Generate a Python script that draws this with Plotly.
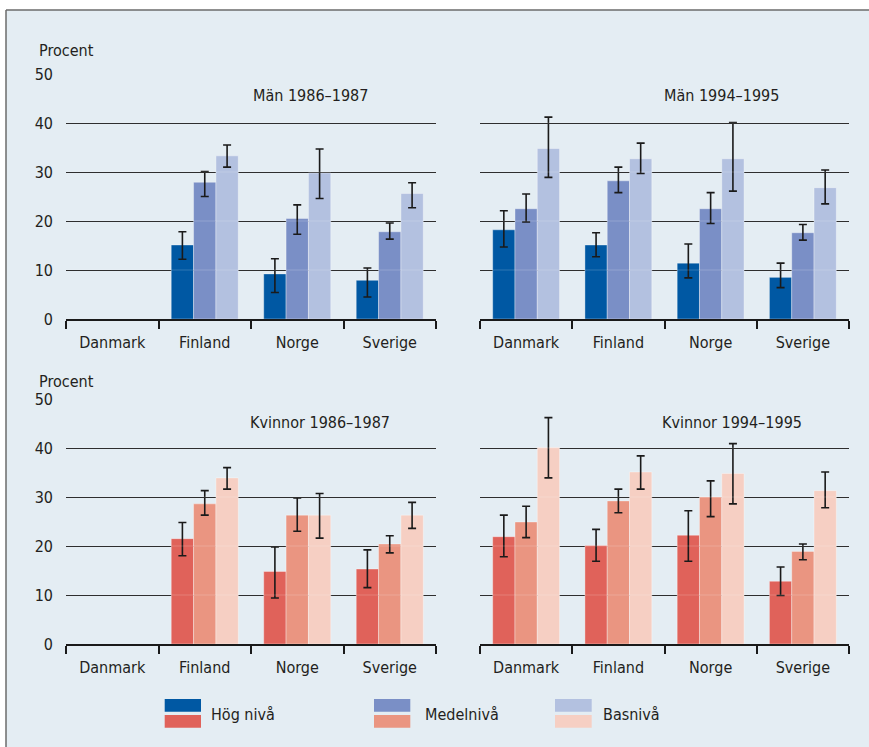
import plotly.graph_objects as go
from plotly.subplots import make_subplots

countries = ["Danmark", "Finland", "Norge", "Sverige"]
levels = ["Hög nivå", "Medelnivå", "Basnivå"]
panel_titles = ["Män 1986–1987", "Män 1994–1995", "Kvinnor 1986–1987", "Kvinnor 1994–1995"]

# values, upper and lower CI bounds per panel / level
man_8687 = [[None, 15.1, 9.2, 7.9], [None, 27.9, 20.5, 17.8], [None, 33.3, 29.8, 25.6]]
man_8687_hi = [[None, 17.8, 12.3, 10.4], [None, 30.1, 23.3, 19.6], [None, 35.5, 34.7, 27.8]]
man_8687_lo = [[None, 12.2, 5.4, 4.5], [None, 25.0, 17.3, 16.3], [None, 31.0, 24.6, 22.7]]

man_9495 = [[18.2, 15.1, 11.4, 8.5], [22.5, 28.2, 22.5, 17.6], [34.8, 32.7, 32.7, 26.8]]
man_9495_hi = [[22.1, 17.6, 15.3, 11.4], [25.5, 31.0, 25.8, 19.3], [41.2, 35.9, 40.1, 30.4]]
man_9495_lo = [[14.7, 12.7, 8.4, 6.4], [19.8, 25.8, 19.5, 16.1], [28.9, 29.7, 26.1, 23.5]]

kv_8687 = [[None, 21.5, 14.8, 15.3], [None, 28.6, 26.3, 20.4], [None, 33.9, 26.3, 26.3]]
kv_8687_hi = [[None, 24.8, 19.8, 19.2], [None, 31.3, 29.8, 22.1], [None, 36.0, 30.7, 28.9]]
kv_8687_lo = [[None, 18.0, 9.4, 11.5], [None, 26.3, 23.0, 18.6], [None, 31.6, 21.6, 23.6]]

kv_9495 = [[21.9, 20.1, 22.2, 12.8], [24.9, 29.2, 30.0, 18.9], [40.1, 35.1, 34.8, 31.3]]
kv_9495_hi = [[26.3, 23.4, 27.2, 15.7], [28.1, 31.6, 33.3, 20.4], [46.2, 38.4, 40.9, 35.1]]
kv_9495_lo = [[17.8, 16.9, 16.9, 9.9], [21.7, 26.8, 26.0, 17.2], [33.9, 31.6, 28.6, 27.8]]

y_ticks = [0, 10, 20, 30, 40, 50]

blues = ["#0058a3", "#7a8fc6", "#b3c1e0"]
reds = ["#e0625a", "#ea9581", "#f6cfc3"]
BG = "#e4edf3"
TXT = "#231f20"
FONT = "DejaVu Sans Condensed, Liberation Sans Narrow, Arial Narrow, sans-serif"
FS = 16

W, H = 869, 747
ML, MR, MT, MB = 66, 20, 74, 747 - 644
PW, PH = W - ML - MR, H - MT - MB


def px(x):  # page pixel -> paper
    return (x - ML) / PW


def py(y):
    return (H - MB - y) / PH


fig = make_subplots(rows=2, cols=2)

panels = [
    (1, 1, man_8687, man_8687_hi, man_8687_lo, blues),
    (1, 2, man_9495, man_9495_hi, man_9495_lo, blues),
    (2, 1, kv_8687, kv_8687_hi, kv_8687_lo, reds),
    (2, 2, kv_9495, kv_9495_hi, kv_9495_lo, reds),
]

for r, c, vals, hi, lo, cols in panels:
    for i, lev in enumerate(levels):
        v = vals[i]
        plus = [None if a is None else round(h - a, 2) for a, h in zip(v, hi[i])]
        minus = [None if a is None else round(a - l, 2) for a, l in zip(v, lo[i])]
        fig.add_trace(
            go.Bar(
                x=countries, y=v, name=lev, showlegend=False,
                marker=dict(color=cols[i], line=dict(color="rgba(255,255,255,0.35)", width=1)),
                error_y=dict(type="data", symmetric=False, array=plus, arrayminus=minus,
                             color="#1a1a1a", thickness=1.6, width=4),
            ),
            row=r, col=c,
        )

fig.update_layout(
    width=W, height=H,
    margin=dict(l=ML, r=MR, t=MT, b=MB),
    paper_bgcolor="white", plot_bgcolor="rgba(0,0,0,0)",
    barmode="group", bargap=0.275, bargroupgap=0,
    font=dict(family=FONT, size=FS, color=TXT),
    showlegend=False,
)

xdom = {1: [0, px(436)], 2: [px(480), 1]}
ydom = {1: [py(319), 1], 2: [0, py(399)]}

for r in (1, 2):
    for c in (1, 2):
        fig.update_xaxes(
            domain=xdom[c], range=[-0.5, 3.5], type="category",
            categoryorder="array", categoryarray=countries,
            showline=True, linecolor="#1a1a1a", linewidth=1.5,
            ticks="outside", tickson="boundaries", ticklen=8, tickwidth=1.5, tickcolor="#1a1a1a",
            showgrid=False, ticklabelstandoff=8,
            tickfont=dict(family=FONT, size=FS, color=TXT),
            row=r, col=c,
        )
        fig.update_yaxes(
            domain=ydom[r], range=[0, 50], tickvals=y_ticks,
            showticklabels=(c == 1), showgrid=True, gridcolor="#1a1a1a", gridwidth=1.4,
            zeroline=False, showline=False, ticks="", ticklabelstandoff=12,
            tickfont=dict(family=FONT, size=FS, color=TXT),
            row=r, col=c,
        )

shapes = []
# background panel with top/left border
shapes.append(dict(type="rect", xref="paper", yref="paper", x0=px(6), x1=px(900), y0=py(10), y1=py(800),
                   fillcolor=BG, line=dict(width=0), layer="below"))
shapes.append(dict(type="line", xref="paper", yref="paper", x0=px(6), x1=px(900), y0=py(10), y1=py(10),
                   line=dict(color="#6b6b6b", width=1.5), layer="below"))
shapes.append(dict(type="line", xref="paper", yref="paper", x0=px(6), x1=px(6), y0=py(10), y1=py(800),
                   line=dict(color="#6b6b6b", width=1.5), layer="below"))

# subtle light lines where gridlines cross the bars
axis_names = [("x", "y"), ("x2", "y2"), ("x3", "y3"), ("x4", "y4")]
for xa, ya in axis_names:
    for t in y_ticks[1:-1]:
        shapes.append(dict(type="line", xref=xa + " domain", yref=ya, x0=0, x1=1, y0=t, y1=t,
                           line=dict(color="rgba(255,255,255,0.18)", width=1), layer="above"))

# legend swatches
leg_x = [(164.7, 201), (374, 410.3), (555, 591.7)]
for i, (x0, x1) in enumerate(leg_x):
    shapes.append(dict(type="rect", xref="paper", yref="paper", x0=px(x0), x1=px(x1), y0=py(711.7), y1=py(699),
                       fillcolor=blues[i], line=dict(width=0)))
    shapes.append(dict(type="rect", xref="paper", yref="paper", x0=px(x0), x1=px(x1), y0=py(727.7), y1=py(715),
                       fillcolor=reds[i], line=dict(width=0)))

annotations = []
leg_tx = [209, 422.7, 600.7]
for i, lev in enumerate(levels):
    annotations.append(dict(text=lev, xref="paper", yref="paper", x=px(leg_tx[i]), y=py(714),
                            xanchor="left", yanchor="middle", showarrow=False,
                            font=dict(family=FONT, size=FS, color=TXT)))

# "Procent" labels
for yy in (50.5, 381):
    annotations.append(dict(text="Procent", xref="paper", yref="paper", x=px(37), y=py(yy),
                            xanchor="left", yanchor="middle", showarrow=False,
                            font=dict(family=FONT, size=FS, color=TXT)))

# panel titles
title_pos = [(0.66, 45.6), (0.655, 45.6), (0.687, 45.2), (0.683, 45.2)]
for (xa, ya), t, (tx, ty) in zip(axis_names, panel_titles, title_pos):
    annotations.append(dict(text=t, xref=xa + " domain", yref=ya, x=tx, y=ty,
                            xanchor="center", yanchor="middle", showarrow=False,
                            font=dict(family=FONT, size=FS, color=TXT)))

fig.update_layout(shapes=shapes, annotations=annotations)

fig.write_html(
    "out.html",
    config={"displayModeBar": False},
    post_script="document.body.style.margin='0';document.body.style.overflow='hidden';",
)
